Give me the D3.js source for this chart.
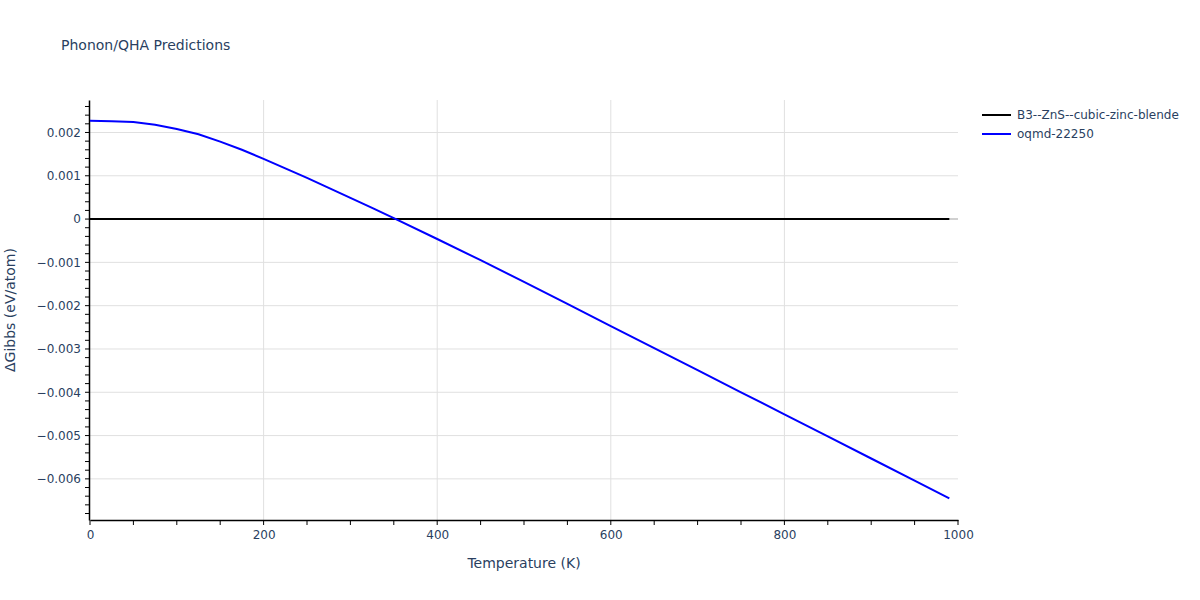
<!DOCTYPE html>
<html><head><meta charset="utf-8">
<script src="https://cdn.jsdelivr.net/npm/d3@7"></script>
<style>body{margin:0;background:#fff;} text{font-family:"DejaVu Sans",Verdana,sans-serif;}</style>
</head><body>
<svg id="chart" width="1200" height="600"></svg>
<script>
const temps = [0,25,50,75,100,125,150,175,200,225,250,275,300,325,350,400,450,500,550,600,650,700,750,800,850,900,950,990];
const refSeries = [0,0,0,0,0,0,0,0,0,0,0,0,0,0,0,0,0,0,0,0,0,0,0,0,0,0,0,0];
const oqmdSeries = [0.00227,0.00226,0.00224,0.00218,0.00208,0.00196,0.00179,0.00160,0.00139,0.00117,0.00095,0.00072,0.00049,0.00026,0.00002,-0.00046,-0.00095,-0.00145,-0.00196,-0.00247,-0.00298,-0.00349,-0.00400,-0.00451,-0.00502,-0.00553,-0.00604,-0.00645];
const seriesNames = ["B3--ZnS--cubic-zinc-blende","oqmd-22250"];
const seriesColors = ["#000000","#0000ff"];
const xTicks = [0,200,400,600,800,1000];
const yTicks = [0.002,0.001,0,-0.001,-0.002,-0.003,-0.004,-0.005,-0.006];
const yTickLabels = ["0.002","0.001","0","−0.001","−0.002","−0.003","−0.004","−0.005","−0.006"];

const svg = d3.select("#chart");
const L=90,R=958,T=100,B=520;
const x = d3.scaleLinear().domain([0,1000]).range([L,R]);
const y = d3.scaleLinear().domain([-0.00695,0.00275]).range([B,T]);
const txt = "#2a3f5f";

// grid
svg.append("g").selectAll("line").data(xTicks.filter(d=>d>0&&d<1000)).join("line")
  .attr("x1",d=>x(d)).attr("x2",d=>x(d)).attr("y1",T).attr("y2",B)
  .attr("stroke","#e0e0e0").attr("stroke-width",1);
svg.append("g").selectAll("line").data(yTicks).join("line")
  .attr("x1",L).attr("x2",R).attr("y1",d=>y(d)).attr("y2",d=>y(d))
  .attr("stroke",d=>d===0?"#d0d0d0":"#e0e0e0").attr("stroke-width",d=>d===0?2:1);

// axes
const xAxis = d3.axisBottom(x).tickValues(xTicks).tickSize(0).tickPadding(10).tickFormat(d3.format("d"));
const gx = svg.append("g").attr("transform",`translate(0,${B})`).call(xAxis);
gx.select(".domain").attr("stroke","#000").attr("stroke-width",1.5);
gx.selectAll("text").attr("fill",txt).attr("font-size",12);
const xMinor = d3.range(0,1001,50);
svg.append("g").selectAll("line").data(xMinor).join("line")
  .attr("x1",d=>x(d)).attr("x2",d=>x(d)).attr("y1",B).attr("y2",B+5)
  .attr("stroke","#000").attr("stroke-width",1);

const yAxis = d3.axisLeft(y).tickValues(yTicks).tickSize(0).tickPadding(8).tickFormat((d,i)=>yTickLabels[i]);
const gy = svg.append("g").attr("transform",`translate(${L-1},0)`).call(yAxis);
gy.select(".domain").attr("stroke","#000").attr("stroke-width",1.5);
gy.selectAll("text").attr("fill",txt).attr("font-size",12);
const yMinor = d3.range(-68,27,2).map(v=>v/10000);
svg.append("g").selectAll("line").data(yMinor).join("line")
  .attr("x1",L-5).attr("x2",L-1).attr("y1",d=>y(d)).attr("y2",d=>y(d))
  .attr("stroke","#000").attr("stroke-width",1);

// lines
const line = d3.line().x((d,i)=>x(temps[i])).y(d=>y(d));
[refSeries,oqmdSeries].forEach((s,k)=>{
  svg.append("path").datum(s).attr("d",line).attr("fill","none")
    .attr("stroke",seriesColors[k]).attr("stroke-width",2);
});

// title
svg.append("text").attr("x",61).attr("y",50).attr("fill",txt).attr("font-size",14).text("Phonon/QHA Predictions");
svg.append("text").attr("x",(L+R)/2).attr("y",568).attr("text-anchor","middle").attr("fill",txt).attr("font-size",14).text("Temperature (K)");
svg.append("text").attr("transform",`translate(15,${(T+B)/2}) rotate(-90)`).attr("text-anchor","middle").attr("fill",txt).attr("font-size",14).text("ΔGibbs (eV/atom)");

// legend
seriesNames.forEach((n,i)=>{
  const yy = 115 + i*19;
  svg.append("line").attr("x1",982).attr("x2",1011).attr("y1",yy).attr("y2",yy).attr("stroke",seriesColors[i]).attr("stroke-width",2);
  svg.append("text").attr("x",1017).attr("y",yy+4).attr("fill",txt).attr("font-size",12).text(n);
});
</script>
</body></html>
